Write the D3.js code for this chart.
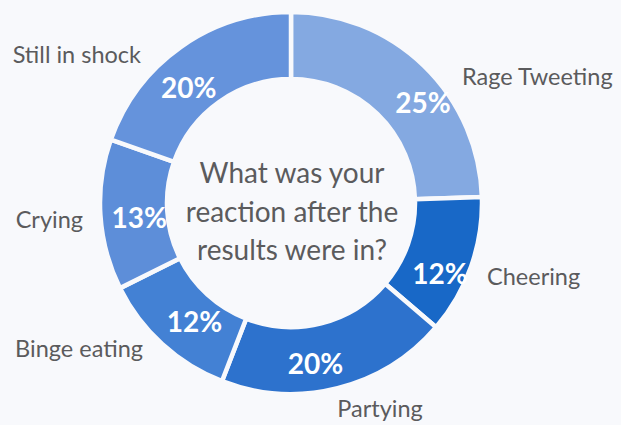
<!DOCTYPE html>
<html>
<head>
<meta charset="utf-8">
<script src="https://cdn.jsdelivr.net/npm/d3@7/dist/d3.min.js"></script>
<style>
  html, body { margin: 0; padding: 0; background: #f8f9fc; }
  svg { display: block; }
  text { font-family: Lato, "Open Sans", sans-serif; }
</style>
</head>
<body>
<svg id="chart" width="621" height="425"></svg>
<script>
// Survey answers, clockwise from 12 o'clock
const categories = ["Rage Tweeting", "Cheering", "Partying", "Binge eating", "Crying", "Still in shock"];
const shares = [25, 12, 20, 12, 13, 20];
const colors = ["#84a9e1", "#1868c7", "#2d72cd", "#4381d4", "#5d8ed9", "#6593dc"];
const question = ["What was your", "reaction after the", "results were in?"];

// Placement of the category captions around the ring (x, y, anchor)
const captionLayout = [
  { x: 462, y: 85,  anchor: "start" },
  { x: 487, y: 285, anchor: "start" },
  { x: 380, y: 417, anchor: "middle" },
  { x: 143, y: 357, anchor: "end" },
  { x: 83,  y: 228, anchor: "end" },
  { x: 141, y: 63,  anchor: "end" }
];
// Small nudges of the percentage text away from the slice centroid
const pctNudge = [[22, 12], [0, 17], [-14, 7], [10, 1], [6, 4], [-11, 13]];

const W = 621, H = 425;
const cx = 291, cy = 203, rOuter = 191, rInner = 124;

const svg = d3.select("#chart");
svg.append("rect").attr("width", W).attr("height", H).attr("fill", "#f8f9fc");

const data = categories.map((c, i) => ({ name: c, value: shares[i], color: colors[i], i }));

const pie = d3.pie().value(d => d.value).sort(null);
const arc = d3.arc().innerRadius(rInner).outerRadius(rOuter);
const labelArc = d3.arc().innerRadius(158).outerRadius(158);

const g = svg.append("g").attr("transform", `translate(${cx},${cy})`);
const arcs = pie(data);

g.selectAll("path.slice")
  .data(arcs)
  .join("path")
  .attr("class", "slice")
  .attr("d", arc)
  .attr("fill", d => d.data.color)
  .attr("stroke", "#f8f9fc")
  .attr("stroke-width", 4.5)
  .attr("stroke-linejoin", "miter");

g.selectAll("text.pct")
  .data(arcs)
  .join("text")
  .attr("class", "pct")
  .attr("x", d => labelArc.centroid(d)[0] + pctNudge[d.data.i][0])
  .attr("y", d => labelArc.centroid(d)[1] + pctNudge[d.data.i][1])
  .attr("text-anchor", "middle")
  .attr("dominant-baseline", "central")
  .attr("fill", "#ffffff")
  .attr("font-size", 28)
  .attr("font-weight", 700)
  .text(d => d.data.value + "%");

// Category captions
svg.selectAll("text.cat")
  .data(data)
  .join("text")
  .attr("class", "cat")
  .attr("x", d => captionLayout[d.i].x)
  .attr("y", d => captionLayout[d.i].y)
  .attr("text-anchor", d => captionLayout[d.i].anchor)
  .attr("fill", "#5b5b5d")
  .attr("font-size", 23.5)
  .text(d => d.name);

// Question in the middle of the ring
svg.append("g")
  .selectAll("text")
  .data(question)
  .join("text")
  .attr("x", cx + 1)
  .attr("y", (d, i) => 183 + i * 38.5)
  .attr("text-anchor", "middle")
  .attr("fill", "#5b5b5d")
  .attr("font-size", 28)
  .text(d => d);
</script>
</body>
</html>
